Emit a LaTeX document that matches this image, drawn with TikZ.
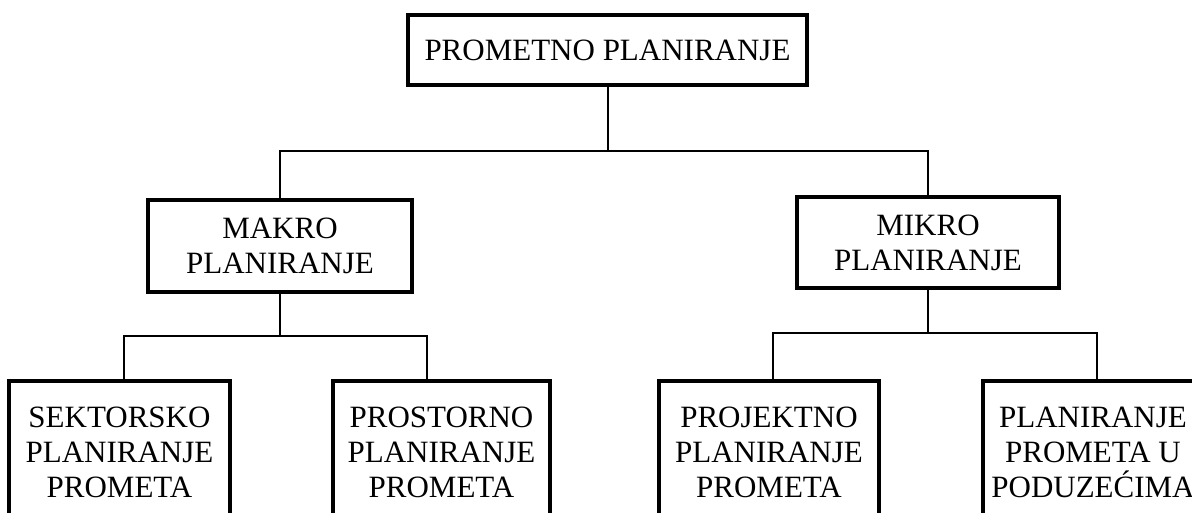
\documentclass[tikz,border=0pt]{standalone}
\usepackage{fontspec}
\setmainfont{Liberation Serif}
\usetikzlibrary{calc,positioning}
\tikzset{
  blok/.style={draw, line width=1.6pt, rectangle, align=center, inner sep=0pt,
    font=\fontsize{15.5}{17.5}\selectfont},
  veza/.style={line width=1pt}
}
\begin{document}
\begin{tikzpicture}[x=0.5pt,y=-0.5pt]
\useasboundingbox (0,0) rectangle (1192,513);
\node[blok,minimum width=199.5pt,minimum height=35pt] (PP) at (607.5,50) {PROMETNO PLANIRANJE};
\node[blok,minimum width=132pt,minimum height=46pt] (MA) at (280,246) {MAKRO\\PLANIRANJE};
\node[blok,minimum width=131pt,minimum height=45.5pt] (MI) at (928,242.5) {MIKRO\\PLANIRANJE};
% donja razina, odrezana na donjem rubu
\node[blok,minimum width=110.5pt,minimum height=71pt] (SP) at (119.5,452) {SEKTORSKO\\PLANIRANJE\\PROMETA};
\node[blok,minimum width=108.5pt,minimum height=71pt] (PR) at (441.5,452) {PROSTORNO\\PLANIRANJE\\PROMETA};
\node[blok,minimum width=110pt,minimum height=71pt] (PJ) at (769,452) {PROJEKTNO\\PLANIRANJE\\PROMETA};
\node[blok,minimum width=110pt,minimum height=71pt] (PU) at (1093,452) {PLANIRANJE\\PROMETA U\\PODUZEĆIMA};
% veze
\coordinate (j0) at (607.5,151);
\draw[veza] (PP.south) -- (j0);
\draw[veza] (MA.north) |- (j0) -| (MI.north);
\coordinate (j1) at (280,336);
\coordinate (j1a) at (124,336);
\coordinate (j1b) at (427,336);
\draw[veza] (MA.south) -- (j1);
\draw[veza] (j1a |- SP.north) -- (j1a) -- (j1b) -- (j1b |- PR.north);
\coordinate (j2) at (928,333);
\coordinate (j2a) at (773,333);
\coordinate (j2b) at (1097,333);
\draw[veza] (MI.south) -- (j2);
\draw[veza] (j2a |- PJ.north) -- (j2a) -- (j2b) -- (j2b |- PU.north);
\end{tikzpicture}
\end{document}
